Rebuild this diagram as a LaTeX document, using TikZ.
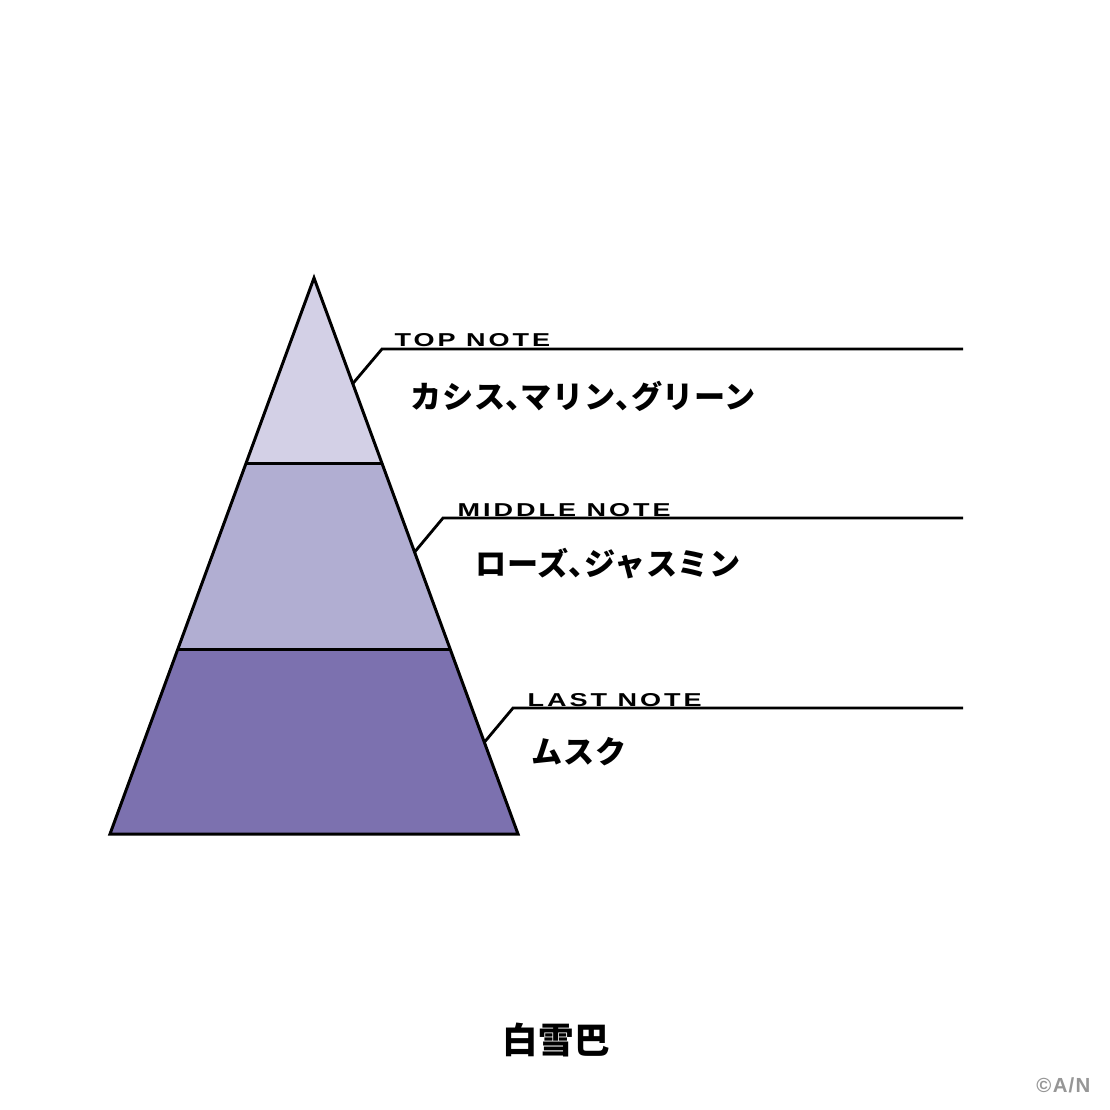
\documentclass[tikz,border=0pt]{standalone}
\usepackage{fontspec}
\usetikzlibrary{calc}
\newfontfamily\jpfont[LetterSpace=2]{Noto Sans CJK JP}
\newfontfamily\notefont[FakeStretch=1.45,LetterSpace=16]{Liberation Sans}
\newfontfamily\creditfont[LetterSpace=6]{Liberation Sans}
\newcommand\halfcomma{{\addfontfeature{RawFeature=+halt}、}}
\definecolor{topband}{RGB}{211,208,230}
\definecolor{midband}{RGB}{177,174,210}
\definecolor{lastband}{RGB}{124,113,175}
\definecolor{creditgray}{RGB}{150,150,150}
\tikzset{band/.style={draw=black,line width=0.85pt,line join=miter},
  leader/.style={black,line width=0.8pt},
  notelabel/.style={anchor=base west,inner sep=0pt,font=\notefont\bfseries\fontsize{5.3}{6}\selectfont},
  scent/.style={anchor=west,inner sep=0pt,font=\jpfont\bfseries\fontsize{8.85}{10}\selectfont}}

\begin{document}
\begin{tikzpicture}[x=0.01cm,y=-0.01cm]
   \fill[white] (0,0) rectangle (1110,1110);
   \useasboundingbox (0,0) rectangle (1110,1110);
   % pyramid
   \coordinate (apex) at (314,278);
   \coordinate (bl) at (110,834);
   \coordinate (br) at (518,834);
   \coordinate (l1) at ($(apex)!0.3345!(bl)$);
   \coordinate (r1) at ($(apex)!0.3345!(br)$);
   \coordinate (l2) at ($(apex)!0.6673!(bl)$);
   \coordinate (r2) at ($(apex)!0.6673!(br)$);
   \fill[topband] (apex) -- (l1) -- (r1) -- cycle;
   \fill[midband] (l1) -- (l2) -- (r2) -- (r1) -- cycle;
   \fill[lastband] (l2) -- (bl) -- (br) -- (r2) -- cycle;
   \draw[band] (l1) -- (r1);
   \draw[band] (l2) -- (r2);
   \draw[band] (apex) -- (bl) -- (br) -- cycle;
   % leaders
   \coordinate (topfoot) at ($(apex)!0.19!(br)$);
   \coordinate (midfoot) at ($(apex)!0.493!(br)$);
   \coordinate (lastfoot) at ($(apex)!0.835!(br)$);
   \coordinate (topknee) at (382,349);
   \coordinate (midknee) at (443,518);
   \coordinate (lastknee) at (513,708);
   \coordinate (topend) at (963,349);
   \coordinate (midend) at (963,518);
   \coordinate (lastend) at (963,708);
   \draw[leader] (topfoot) -- (topknee) -- (topend);
   \draw[leader] (midfoot) -- (midknee) -- (midend);
   \draw[leader] (lastfoot) -- (lastknee) -- (lastend);
   % labels
   \node[notelabel] (toplabel) at (394,347) {TOP NOTE};
   \node[notelabel] (midlabel) at (457,516) {MIDDLE NOTE};
   \node[notelabel] (lastlabel) at (527,706) {LAST NOTE};
   \node[scent] (topscent) at (410,396) {カシス\halfcomma マリン\halfcomma グリーン};
   \node[scent] (midscent) at (475,564) {ローズ\halfcomma ジャスミン};
   \node[scent] (lastscent) at (531,752) {ムスク};
   \node[inner sep=0pt,font=\jpfont\bfseries\fontsize{10.1}{12}\selectfont] (title) at (556,1040) {白雪巴};
   \node[anchor=base east,inner sep=0pt,text=creditgray,font=\creditfont\bfseries\fontsize{5.8}{7}\selectfont] (credit) at (1091,1092) {©A/N};
\end{tikzpicture}
\end{document}
